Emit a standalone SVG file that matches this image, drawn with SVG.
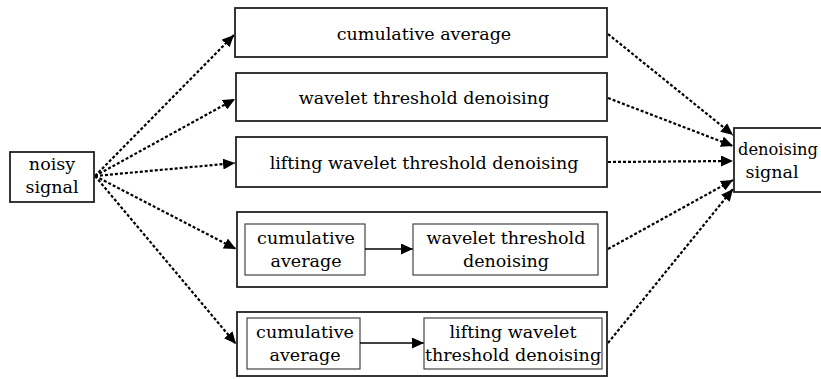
<svg xmlns="http://www.w3.org/2000/svg" width="821" height="379" viewBox="0 0 821 379">
<defs>
<style>
.box{fill:#fff;stroke:#222;stroke-width:1.8}
.inner{fill:#fff;stroke:#444;stroke-width:1.2}
.t{font-family:"DejaVu Serif","Liberation Serif",serif;font-size:17.5px;fill:#000;text-anchor:middle}
.dot{stroke:#000;stroke-width:2.2;stroke-dasharray:3,2;fill:none;marker-end:url(#ah)}
.solid{stroke:#000;stroke-width:1.6;fill:none;marker-end:url(#ah)}
</style>
<marker id="ah" markerUnits="userSpaceOnUse" markerWidth="13" markerHeight="11" refX="12" refY="5.5" orient="auto">
<path d="M0,0 L12,5.5 L0,11 z" fill="#000"/>
</marker>
</defs>
<rect width="821" height="379" fill="#fff"/>

<g id="connectors">
<line class="dot" x1="95" y1="176" x2="234" y2="35"/>
<line class="dot" x1="95" y1="176" x2="235" y2="99"/>
<line class="dot" x1="95" y1="176" x2="235" y2="163"/>
<line class="dot" x1="95" y1="176" x2="236" y2="249"/>
<line class="dot" x1="95" y1="176" x2="236" y2="344"/>
<line class="dot" x1="608" y1="34" x2="733" y2="135"/>
<line class="dot" x1="608" y1="98" x2="733" y2="146"/>
<line class="dot" x1="608" y1="162" x2="733" y2="161"/>
<line class="dot" x1="608" y1="249" x2="733" y2="180"/>
<line class="dot" x1="608" y1="343" x2="733" y2="189"/>
</g>

<g id="noisy">
<rect class="box" x="10" y="152" width="84" height="50"/>
<text class="t" x="52" y="170">noisy</text>
<text class="t" x="52" y="193">signal</text>
</g>

<g id="cumavg">
<rect class="box" x="235" y="8" width="372" height="49"/>
<text class="t" x="424" y="40">cumulative average</text>
</g>

<g id="wtd">
<rect class="box" x="236" y="73" width="371" height="48"/>
<text class="t" x="424" y="103.5">wavelet threshold denoising</text>
</g>

<g id="lwtd">
<rect class="box" x="236" y="137" width="371" height="50"/>
<text class="t" x="424" y="168.5">lifting wavelet threshold denoising</text>
</g>

<g id="combo1">
<rect class="box" x="237" y="212" width="370" height="75"/>
<g id="combo1-ca">
<rect class="inner" x="245" y="224" width="120" height="51"/>
<text class="t" x="306" y="244">cumulative</text>
<text class="t" x="306" y="267">average</text>
</g>
<line class="solid" x1="365" y1="249" x2="413" y2="249"/>
<g id="combo1-wtd">
<rect class="inner" x="413" y="224" width="185" height="51"/>
<text class="t" x="506" y="244">wavelet threshold</text>
<text class="t" x="506" y="267">denoising</text>
</g>
</g>

<g id="combo2">
<rect class="box" x="237" y="312" width="370" height="64"/>
<g id="combo2-ca">
<rect class="inner" x="247" y="318" width="113" height="51"/>
<text class="t" x="305" y="338">cumulative</text>
<text class="t" x="305" y="361">average</text>
</g>
<line class="solid" x1="360" y1="343" x2="424" y2="343"/>
<g id="combo2-lwtd">
<rect class="inner" x="424" y="318" width="178" height="51"/>
<text class="t" x="513" y="338">lifting wavelet</text>
<text class="t" x="513" y="361">threshold denoising</text>
</g>
</g>

<g id="denoised">
<rect class="box" x="734" y="128" width="94" height="64"/>
<text class="t" x="778" y="155" style="font-size:16.3px">denoising</text>
<text class="t" x="772" y="178">signal</text>
</g>
</svg>
